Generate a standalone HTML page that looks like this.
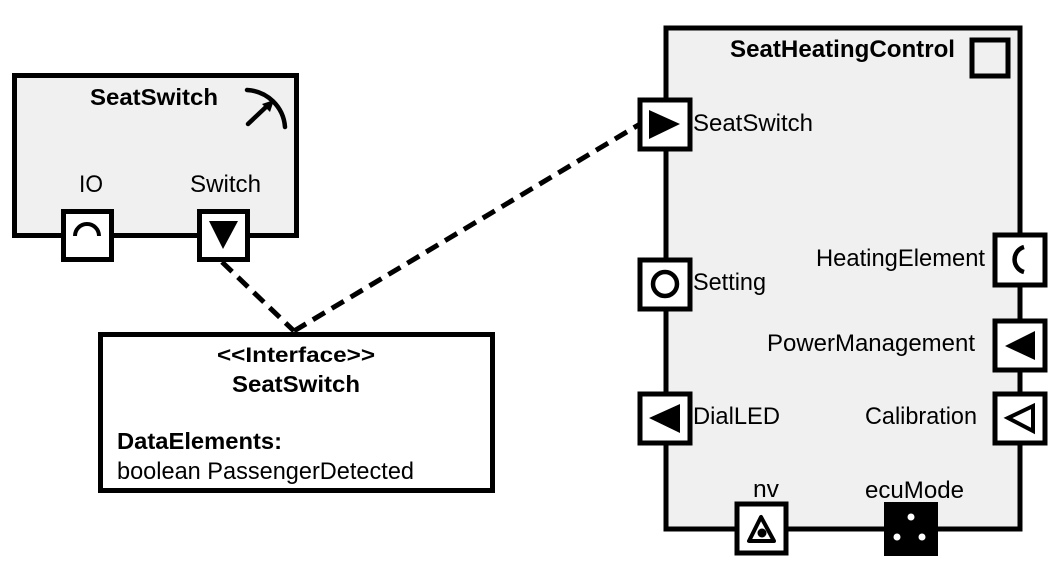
<!DOCTYPE html>
<html><head><style>html,body{margin:0;padding:0;background:#fff;}svg{display:block}</style></head>
<body>
<svg width="1059" height="567" viewBox="0 0 1059 567" xmlns="http://www.w3.org/2000/svg" font-family="Liberation Sans, Arial, sans-serif" font-size="24">
<g stroke="#000" stroke-width="5" stroke-dasharray="14,8" fill="none">
<line x1="222" y1="262" x2="294" y2="331"/>
<line x1="294" y1="331" x2="640" y2="124"/>
</g>
<rect x="14.5" y="75.5" width="282" height="160" fill="#f0f0f0" stroke="#000" stroke-width="5"/>
<text x="90" y="105" font-weight="bold" font-size="23" textLength="128" lengthAdjust="spacingAndGlyphs">SeatSwitch</text>
<path d="M247 90 A40 40 0 0 1 285 127" stroke="#000" stroke-width="4.5" fill="none" stroke-linecap="round"/>
<line x1="248" y1="124" x2="266" y2="107" stroke="#000" stroke-width="4.5" stroke-linecap="round"/>
<polygon points="274,100 262,104 270,112" fill="#000"/>
<text x="79" y="192" textLength="24" lengthAdjust="spacingAndGlyphs">IO</text>
<text x="190" y="192" textLength="71" lengthAdjust="spacingAndGlyphs">Switch</text>
<rect x="63.5" y="211.5" width="48" height="48" fill="#fff" stroke="#000" stroke-width="5"/>
<path d="M75 236 A12 12 0 0 1 99 236" stroke="#000" stroke-width="4" fill="none"/>
<rect x="199.5" y="211.5" width="48" height="48" fill="#fff" stroke="#000" stroke-width="5"/>
<polygon points="209,221 238,221 223,249" fill="#000"/>
<rect x="100.5" y="334.5" width="392" height="156" fill="#fff" stroke="#000" stroke-width="5"/>
<text x="217" y="362" font-weight="bold" font-size="21" textLength="158" lengthAdjust="spacingAndGlyphs">&lt;&lt;Interface&gt;&gt;</text>
<text x="232" y="392" font-weight="bold" font-size="23" textLength="128" lengthAdjust="spacingAndGlyphs">SeatSwitch</text>
<text x="117" y="449" font-weight="bold" font-size="23" textLength="165" lengthAdjust="spacingAndGlyphs">DataElements:</text>
<text x="117" y="479" textLength="297" lengthAdjust="spacingAndGlyphs">boolean PassengerDetected</text>
<rect x="666" y="28" width="354" height="501" fill="#f0f0f0" stroke="#000" stroke-width="5"/>
<text x="730" y="57" font-weight="bold" font-size="24" textLength="225" lengthAdjust="spacingAndGlyphs">SeatHeatingControl</text>
<rect x="972" y="40" width="36" height="36" fill="none" stroke="#000" stroke-width="5"/>
<rect x="640" y="100" width="50" height="49" fill="#fff" stroke="#000" stroke-width="5"/>
<polygon points="649,110 649,139 680,124" fill="#000"/>
<text x="693" y="131" textLength="120" lengthAdjust="spacingAndGlyphs">SeatSwitch</text>
<rect x="640" y="260" width="50" height="49" fill="#fff" stroke="#000" stroke-width="5"/>
<circle cx="665" cy="284" r="12" fill="none" stroke="#000" stroke-width="4.5"/>
<text x="693" y="290" textLength="73" lengthAdjust="spacingAndGlyphs">Setting</text>
<rect x="640" y="394" width="50" height="49" fill="#fff" stroke="#000" stroke-width="5"/>
<polygon points="680,404 680,433 649,418" fill="#000"/>
<text x="693" y="424" textLength="87" lengthAdjust="spacingAndGlyphs">DialLED</text>
<rect x="995" y="235" width="50" height="50" fill="#fff" stroke="#000" stroke-width="5"/>
<path d="M1024 247 A13 13 0 0 0 1024 272" stroke="#000" stroke-width="4.5" fill="none"/>
<text x="816" y="266" textLength="169" lengthAdjust="spacingAndGlyphs">HeatingElement</text>
<rect x="995" y="321" width="50" height="49" fill="#fff" stroke="#000" stroke-width="5"/>
<polygon points="1035,331 1035,360 1005,346" fill="#000"/>
<text x="767" y="351" textLength="208" lengthAdjust="spacingAndGlyphs">PowerManagement</text>
<rect x="995" y="394" width="50" height="49" fill="#fff" stroke="#000" stroke-width="5"/>
<polygon points="1033,406 1033,431 1008,418" fill="none" stroke="#000" stroke-width="4"/>
<text x="865" y="424" textLength="112" lengthAdjust="spacingAndGlyphs">Calibration</text>
<text x="753" y="497" textLength="26" lengthAdjust="spacingAndGlyphs">nv</text>
<rect x="737" y="504" width="49" height="49" fill="#fff" stroke="#000" stroke-width="5"/>
<polygon points="761,517 749,541 774,541" fill="none" stroke="#000" stroke-width="4" stroke-linejoin="round"/>
<circle cx="762" cy="533" r="4.5" fill="#000"/>
<text x="865" y="498" textLength="99" lengthAdjust="spacingAndGlyphs">ecuMode</text>
<rect x="884" y="502" width="54" height="54" fill="#000"/>
<circle cx="911" cy="517" r="3.5" fill="#fff"/>
<circle cx="897" cy="537" r="3.5" fill="#fff"/>
<circle cx="922" cy="537" r="3.5" fill="#fff"/>
</svg>
</body></html>
